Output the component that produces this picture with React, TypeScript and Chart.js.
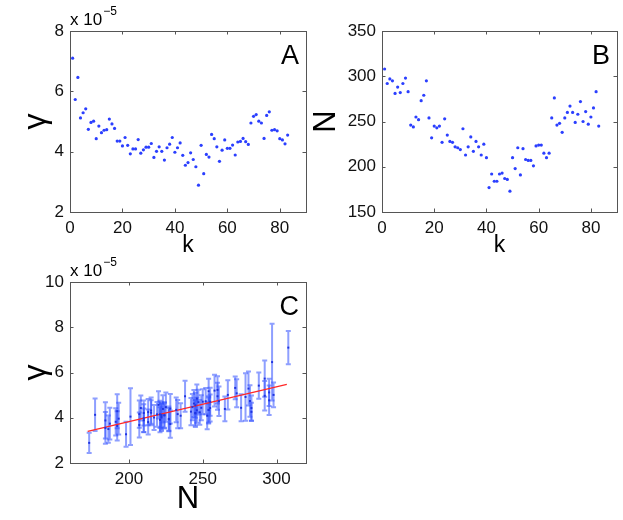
import { useEffect, useRef } from "react"
import { Chart, ChartConfiguration, Plugin, registerables } from "chart.js"

Chart.register(...registerables)

const FONT = '"Liberation Sans", Arial, Helvetica, sans-serif'

// bin index k
const kIndex = [
  1, 2, 3, 4, 5, 6, 7, 8, 9, 10, 11, 12, 13, 14, 15, 16, 17, 18, 19, 20,
  21, 22, 23, 24, 25, 26, 27, 28, 29, 30, 31, 32, 33, 34, 35, 36, 37, 38, 39, 40,
  41, 42, 43, 44, 45, 46, 47, 48, 49, 50, 51, 52, 53, 54, 55, 56, 57, 58, 59, 60,
  61, 62, 63, 64, 65, 66, 67, 68, 69, 70, 71, 72, 73, 74, 75, 76, 77, 78, 79, 80,
  81, 82, 83,
]

// gamma (x 1e-5) per k
const gamma = [
  7.1, 5.73, 6.46, 5.12, 5.29, 5.42, 4.74, 4.97, 5.01, 4.43,
  4.85, 4.63, 4.71, 4.73, 5.08, 4.92, 4.77, 4.35, 4.35, 4.19,
  4.47, 4.21, 3.93, 4.09, 4.09, 4.4, 3.95, 4.06, 4.15, 4.15,
  4.27, 3.81, 4.01, 4.16, 4.01, 3.72, 4.13, 4.25, 4.47, 3.98,
  4.13, 4.29, 3.88, 3.55, 3.64, 3.96, 3.74, 3.5, 2.89, 4.21,
  3.27, 3.91, 3.82, 4.57, 4.43, 4.16, 3.68, 4.05, 4.39, 4.11,
  4.11, 4.22, 3.89, 4.32, 4.34, 4.44, 4.33, 4.24, 4.95, 5.17,
  5.23, 5.01, 4.95, 4.44, 5.2, 5.32, 4.71, 4.73, 4.69, 4.43,
  4.39, 4.26, 4.55,
]

// N per k
const nCount = [
  308, 292, 297, 295, 281, 288, 282, 292, 298, 283,
  246, 244, 255, 252, 273, 279, 295, 254, 232, 245,
  243, 245, 227, 253, 235, 228, 227, 222, 221, 219,
  242, 213, 222, 233, 217, 228, 222, 213, 225, 210,
  177, 192, 184, 184, 192, 193, 187, 186, 173, 210,
  198, 221, 191, 220, 208, 207, 207, 201, 223, 224,
  224, 215, 210, 215, 254, 276, 246, 248, 238, 254,
  260, 267, 260, 249, 258, 272, 250, 261, 247, 255,
  265, 283, 245,
]

// half length of the error bars in panel C (x 1e-5)
const gammaErr = [
  0.73, 0.8, 1.7, 0.6, 0.75, 0.58, 0.7, 0.65, 0.55, 0.55,
  0.62, 0.6, 0.62, 0.58, 0.62, 1.05, 0.65, 0.6, 0.55, 0.6,
  0.58, 0.55, 0.5, 0.6, 0.55, 0.65, 0.55, 0.58, 0.6, 0.55,
  0.6, 0.55, 0.6, 0.62, 0.55, 0.6, 0.55, 0.58, 0.65, 0.62,
  0.72, 0.75, 0.8, 0.7, 0.65, 0.7, 0.7, 0.6, 0.45, 0.55,
  0.55, 0.55, 0.6, 0.6, 0.55, 0.6, 0.55, 1.25, 0.6, 0.55,
  0.58, 0.55, 0.52, 0.58, 0.55, 0.6, 0.55, 0.55, 0.68, 0.55,
  0.6, 0.65, 0.6, 0.55, 0.7, 0.5, 0.55, 0.65, 0.55, 0.6,
  0.55, 0.4, 0.55,
]

// least squares line in panel C
const fitN = [172, 307]
const fitGamma = [3.4, 5.48]

const kTicks = [0, 20, 40, 60, 80]
const gammaTicksA = [2, 4, 6, 8]
const nTicksB = [150, 200, 250, 300, 350]
const nTicksC = [200, 250, 300]
const gammaTicksC = [2, 4, 6, 8, 10]

// box with inward ticks on all four sides, matlab style
const frame: Plugin = {
  id: "frame",
  afterDatasetsDraw(chart) {
    const { ctx, chartArea: a, scales } = chart
    const len = 3.5
    ctx.save()
    ctx.strokeStyle = "#555"
    ctx.lineWidth = 1
    ctx.beginPath()
    for (const t of scales.x.ticks) {
      const px = Math.round(scales.x.getPixelForValue(t.value)) + 0.5
      ctx.moveTo(px, a.bottom)
      ctx.lineTo(px, a.bottom - len)
      ctx.moveTo(px, a.top)
      ctx.lineTo(px, a.top + len)
    }
    for (const t of scales.y.ticks) {
      const py = Math.round(scales.y.getPixelForValue(t.value)) + 0.5
      ctx.moveTo(a.left, py)
      ctx.lineTo(a.left + len, py)
      ctx.moveTo(a.right, py)
      ctx.lineTo(a.right - len, py)
    }
    ctx.stroke()
    ctx.strokeRect(Math.round(a.left) + 0.5, Math.round(a.top) + 0.5, Math.round(a.width), Math.round(a.height))
    ctx.restore()
  },
}

function notes(letter: string, exponent: boolean): Plugin {
  return {
    id: "notes",
    afterDraw(chart) {
      const { ctx, chartArea: a } = chart
      ctx.save()
      ctx.fillStyle = "#000"
      ctx.textBaseline = "alphabetic"
      ctx.font = `27px ${FONT}`
      ctx.textAlign = "right"
      ctx.fillText(letter, a.right - 7, a.top + 33)
      if (exponent) {
        ctx.textAlign = "left"
        ctx.font = `17px ${FONT}`
        ctx.fillText("x 10", a.left, a.top - 6)
        const w = ctx.measureText("x 10").width
        ctx.font = `12px ${FONT}`
        ctx.fillText("\u22125", a.left + w + 1, a.top - 16)
      }
      ctx.restore()
    },
  }
}

const errorBars: Plugin = {
  id: "errorBars",
  beforeDatasetsDraw(chart) {
    const { ctx, scales } = chart
    ctx.save()
    ctx.strokeStyle = "rgba(50, 80, 255, 0.55)"
    ctx.lineWidth = 2
    nCount.forEach((n, i) => {
      const px = scales.x.getPixelForValue(n)
      const top = scales.y.getPixelForValue(gamma[i] + gammaErr[i])
      const bot = scales.y.getPixelForValue(gamma[i] - gammaErr[i])
      ctx.beginPath()
      ctx.moveTo(px, top)
      ctx.lineTo(px, bot)
      ctx.moveTo(px - 2.5, top)
      ctx.lineTo(px + 2.5, top)
      ctx.moveTo(px - 2.5, bot)
      ctx.lineTo(px + 2.5, bot)
      ctx.stroke()
    })
    ctx.restore()
  },
}

function axis(
  min: number,
  max: number,
  ticks: number[],
  size: number,
  horizontal: boolean,
  title: string,
  titleSize: number,
  titlePad: number
) {
  return {
    type: "linear" as const,
    min,
    max,
    grid: { display: false },
    border: { display: false },
    afterBuildTicks: (s: any) => {
      s.ticks = ticks.map((v) => ({ value: v }))
    },
    afterFit: (s: any) => {
      if (horizontal) s.height = size
      else s.width = size
    },
    ticks: {
      color: "#111",
      padding: -2,
      maxRotation: 0,
      font: { family: FONT, size: 17 },
    },
    title: {
      display: true,
      text: title,
      color: "#000",
      font: { family: FONT, size: titleSize },
      padding: horizontal ? { top: 0, bottom: titlePad } : { top: titlePad, bottom: 0 },
    },
  }
}

function baseOptions(padding: { top: number; right: number }) {
  return {
    animation: false as const,
    responsive: true,
    maintainAspectRatio: false,
    layout: { padding: { top: padding.top, right: padding.right, left: 0, bottom: 0 } },
    plugins: { legend: { display: false }, tooltip: { enabled: false } },
  }
}

function configA(): ChartConfiguration {
  return {
    type: "scatter",
    data: {
      datasets: [
        {
          data: kIndex.map((k, i) => ({ x: k, y: gamma[i] })),
          backgroundColor: "#2b3fff",
          borderWidth: 0,
          pointRadius: 1.6,
        },
      ],
    },
    options: {
      ...baseOptions({ top: 31, right: 6 }),
      scales: {
        x: axis(0, 90, kTicks, 50, true, "k", 23, 3),
        y: axis(2, 8, gammaTicksA, 70, false, "\u03b3", 32, 17),
      },
    },
    plugins: [frame, notes("A", true)],
  }
}

function configB(): ChartConfiguration {
  return {
    type: "scatter",
    data: {
      datasets: [
        {
          data: kIndex.map((k, i) => ({ x: k, y: nCount[i] })),
          backgroundColor: "#2b3fff",
          borderWidth: 0,
          pointRadius: 1.6,
        },
      ],
    },
    options: {
      ...baseOptions({ top: 31, right: 6 }),
      scales: {
        x: axis(0, 90, kTicks, 50, true, "k", 23, 3),
        y: axis(150, 350, nTicksB, 82, false, "N", 31, 8),
      },
    },
    plugins: [frame, notes("B", false)],
  }
}

function configC(): ChartConfiguration {
  return {
    type: "scatter",
    data: {
      datasets: [
        {
          data: nCount.map((n, i) => ({ x: n, y: gamma[i] })),
          backgroundColor: "#1f33e0",
          borderWidth: 0,
          pointStyle: "rect",
          pointRadius: 1.4,
        },
        {
          data: fitN.map((n, i) => ({ x: n, y: fitGamma[i] })),
          showLine: true,
          borderColor: "rgb(255, 40, 40)",
          borderWidth: 1.3,
          pointRadius: 0,
        },
      ],
    },
    options: {
      ...baseOptions({ top: 27, right: 6 }),
      scales: {
        x: axis(160, 320, nTicksC, 57, true, "N", 31, 2),
        y: axis(2, 10, gammaTicksC, 70, false, "\u03b3", 32, 17),
      },
    },
    plugins: [errorBars, frame, notes("C", true)],
  }
}

function Panel(props: { left: number; top: number; width: number; height: number; make: () => ChartConfiguration }) {
  const canvasRef = useRef<HTMLCanvasElement>(null)

  useEffect(() => {
    if (!canvasRef.current) return
    const chart = new Chart(canvasRef.current, props.make())
    return () => {
      chart.destroy()
    }
  }, [])

  return (
    <div style={{ position: "absolute", left: props.left, top: props.top, width: props.width, height: props.height }}>
      <canvas ref={canvasRef}></canvas>
    </div>
  )
}

export default function App() {
  return (
    <div style={{ position: "fixed", left: 0, top: 0, width: 623, height: 520, background: "#fff", overflow: "hidden" }}>
      <Panel left={0} top={0} width={312} height={262} make={configA} />
      <Panel left={300} top={0} width={323} height={262} make={configB} />
      <Panel left={0} top={255} width={312} height={265} make={configC} />
    </div>
  )
}
